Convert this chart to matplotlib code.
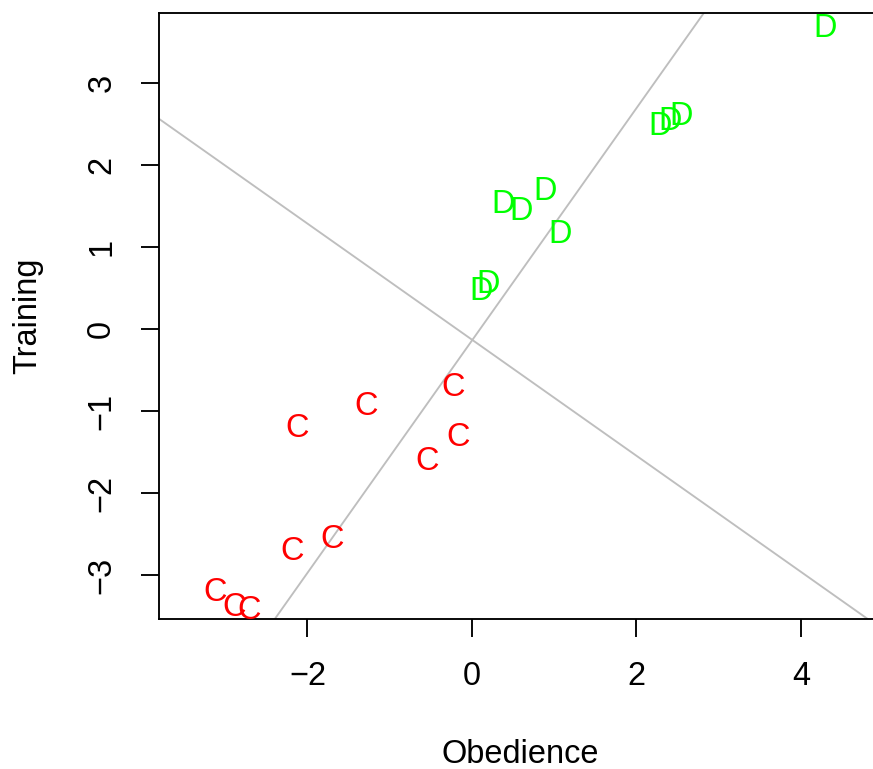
import matplotlib
matplotlib.use("Agg")
import matplotlib.pyplot as plt
from matplotlib.transforms import ScaledTranslation

plt.rcParams['font.family'] = ['Liberation Sans', 'DejaVu Sans']
plt.rcParams['font.size'] = 13

# points: group C (red) and group D (green)
c_obedience = [-3.12, -2.89, -2.71, -2.19, -1.70, -2.12, -1.29, -0.23, -0.17, -0.55]
c_training = [-3.17, -3.35, -3.39, -2.67, -2.52, -1.17, -0.91, -0.68, -1.28, -1.57]
d_obedience = [4.29, 2.29, 2.41, 2.54, 0.38, 0.60, 0.89, 1.07, 0.19, 0.11]
d_training = [3.70, 2.50, 2.56, 2.63, 1.56, 1.47, 1.71, 1.19, 0.58, 0.50]

# the two grey reference lines (intercept, slope)
line_intercepts = [-0.14, -0.13]
line_slopes = [1.415, -0.707]

xticks = [-2, 0, 2, 4]
yticks = [-3, -2, -1, 0, 1, 2, 3]

fig = plt.figure(figsize=(874 / 180, 769 / 180), dpi=180)
ax = fig.add_axes([159 / 874, 1 - 619 / 769, 722 / 874, 606 / 769])
ax.set_xlim(-3.805, 4.973)
ax.set_ylim(-3.532, 3.849)

for a, b in zip(line_intercepts, line_slopes):
    ax.axline((0, a), slope=b, color='#BEBEBE', lw=0.75)

# shift so that letters are centred on their point like R's text()
shift = ax.transData + ScaledTranslation(0, -4.65 / 72, fig.dpi_scale_trans)
for x, y in zip(c_obedience, c_training):
    ax.text(x, y, 'C', color='#FF0000', ha='center', va='baseline', transform=shift)
for x, y in zip(d_obedience, d_training):
    ax.text(x, y, 'D', color='#00FF00', ha='center', va='baseline', transform=shift)

ax.set_xticks(xticks)
ax.set_yticks(yticks)
ax.set_yticklabels([str(t).replace('-', '\u2212') for t in yticks], rotation=90, va='center')
ax.tick_params(direction='out', length=7.2, width=0.75, pad=9.5, labelsize=13)
for s in ax.spines.values():
    s.set_linewidth(0.75)

ax.set_xlabel('Obedience', labelpad=19)
ax.set_ylabel('Training', labelpad=17)

fig.savefig('out.png', dpi=180)
